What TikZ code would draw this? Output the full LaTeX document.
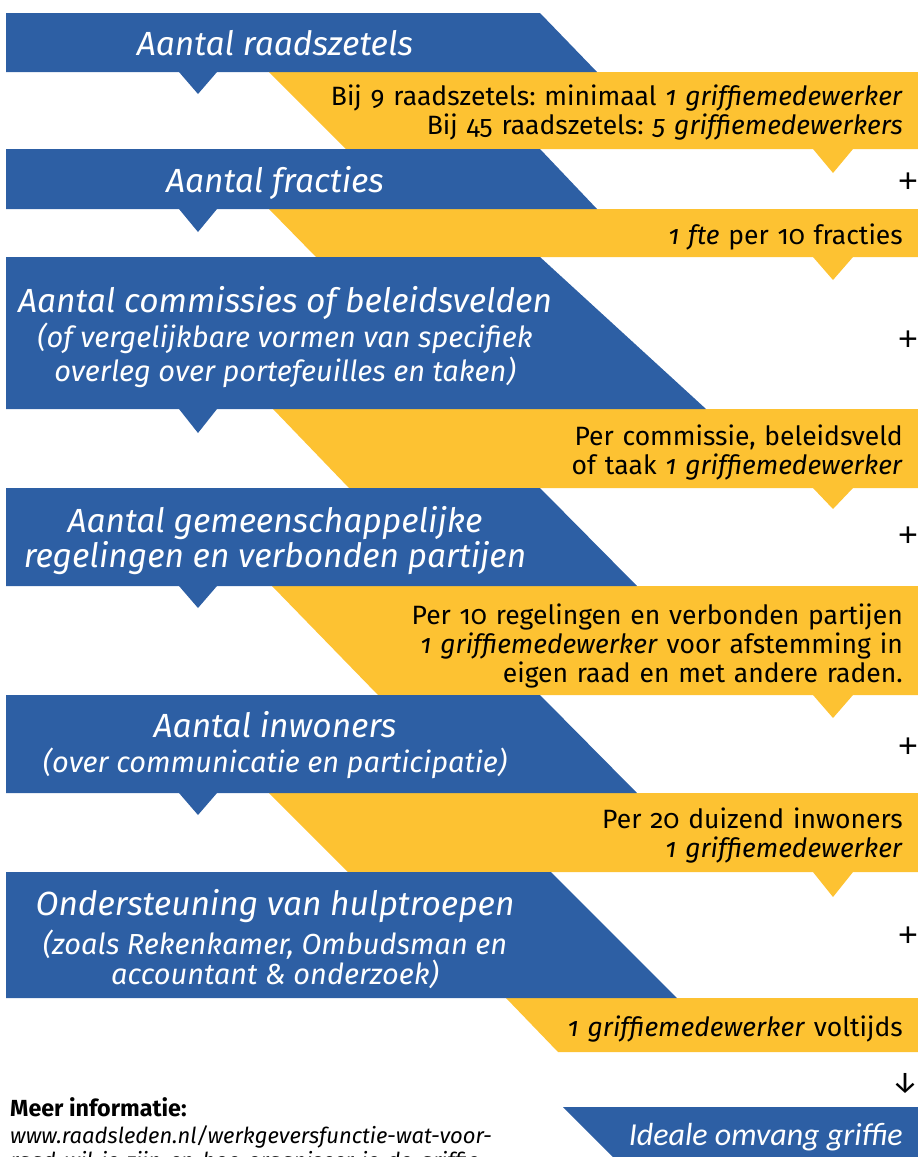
\documentclass[tikz,border=0pt]{standalone}
\usepackage{fontspec}
\setmainfont{Fira Sans}[Numbers=OldStyle]
\newfontfamily\idealfont{Carlito}
\newfontfamily\plusfont{Liberation Sans}
\usepackage{tikz}
\usetikzlibrary{arrows.meta}
\definecolor{raadblauw}{RGB}{45,95,164}
\definecolor{raadgeel}{RGB}{253,194,50}

\begin{document}
\begin{tikzpicture}[x=1pt,y=-1pt,
kop/.style={text=white,font=\fontsize{33.5}{38}\selectfont\itshape,inner sep=0pt,anchor=mid},
subkop/.style={kop,font=\fontsize{29}{34}\selectfont\itshape},
geel/.style={font=\fontsize{26.5}{29}\selectfont\frenchspacing,text width=600pt,align=right,inner sep=0pt,anchor=east},
plus/.style={font=\plusfont\fontsize{34}{38}\selectfont,inner sep=0pt}]
\useasboundingbox(0,0)rectangle(918,1157);
\clip(0,0)rectangle(918,1157);
\fill[raadgeel](269,72)--(918,72)--(918,149)--(853,149)--(833,173)--(813,149)--(346,149)--cycle;
\fill[raadgeel](269,209)--(918,209)--(918,257)--(853,257)--(833,280)--(813,257)--(316,257)--cycle;
\fill[raadgeel](273,409)--(918,409)--(918,488)--(853,488)--(833,509)--(813,488)--(349,488)--cycle;
\fill[raadgeel](272,586)--(918,586)--(918,695)--(853,695)--(833,718)--(813,695)--(378,695)--cycle;
\fill[raadgeel](269,793)--(918,793)--(918,872)--(853,872)--(833,897)--(813,872)--(348,872)--cycle;
\fill[raadgeel](506,998)--(918,998)--(918,1052)--(558,1052)--cycle;
\fill[raadblauw](6,13)--(540,13)--(597,72)--(217,72)--(198,94)--(179,72)--(6,72)--cycle;
\fill[raadblauw](6,149)--(540,149)--(597,209)--(217,209)--(198,232)--(179,209)--(6,209)--cycle;
\fill[raadblauw](6,257)--(540,257)--(706,409)--(217,409)--(198,433)--(179,409)--(6,409)--cycle;
\fill[raadblauw](6,488)--(540,488)--(637,586)--(217,586)--(198,608)--(179,586)--(6,586)--cycle;
\fill[raadblauw](6,695)--(540,695)--(637,793)--(217,793)--(198,815)--(179,793)--(6,793)--cycle;
\fill[raadblauw](6,872)--(551,872)--(677,998)--(6,998)--cycle;
\fill[raadblauw](563,1107)--(918,1107)--(918,1160)--(616,1160)--cycle;
\node[kop](k1)at(275,53){Aantal raadszetels};
\node[kop](k2)at(275,190){Aantal fracties};
\node[kop](k3a)at(285,310){Aantal commissies of beleidsvelden};
\node[subkop](k3b)at(285,345){(of vergelijkbare vormen van specifiek};
\node[subkop](k3c)at(285,379){overleg over portefeuilles en taken)};
\node[kop](k4a)at(275,530){Aantal gemeenschappelijke};
\node[kop](k4b)at(275,565){regelingen en verbonden partijen};
\node[kop](k5a)at(275,735){Aantal inwoners};
\node[subkop](k5b)at(275,770){(over communicatie en participatie)};
\node[kop](k6a)at(275,913){Ondersteuning van hulptroepen};
\node[subkop](k6b)at(275,952){(zoals Rekenkamer, Ombudsman en};
\node[subkop](k6c)at(275,982){accountant \& onderzoek)};
\node[geel](g1)at(903,113){Bij 9 raadszetels: minimaal \textit{1 griffiemedewerker}\\Bij 45 raadszetels: \textit{5 griffiemedewerkers}};
\node[geel](g2)at(903,237){\textit{1 fte} per 10 fracties};
\node[geel](g3)at(903,453){Per commissie, beleidsveld\\of taak \textit{1 griffiemedewerker}};
\node[geel](g4)at(903,646){Per 10 regelingen en verbonden partijen\\\textit{1 griffiemedewerker} voor afstemming in\\eigen raad en met andere raden.};
\node[geel](g5)at(903,836){Per 20 duizend inwoners\\\textit{1 griffiemedewerker}};
\node[geel](g6)at(903,1029){\textit{1 griffiemedewerker} voltijds};
\node[plus](p2)at(908,183){+};
\node[plus](p3)at(908,341){+};
\node[plus](p4)at(908,537){+};
\node[plus](p5)at(908,748){+};
\node[plus](p6)at(908,937){+};
\node[inner sep=0pt,font=\fontsize{30}{34}\selectfont](pijl)at(905,1083){↓};
\node[text=white,font=\idealfont\fontsize{32}{36}\selectfont\itshape,anchor=mid east,inner sep=0pt](ideaal)at(903,1143){Ideale omvang griffie};
\node[anchor=mid west,inner sep=0pt,font=\fontsize{23.3}{26}\selectfont\bfseries](meer)at(10,1114){Meer informatie:};
\node[anchor=mid west,inner sep=0pt,font=\fontsize{22}{26}\selectfont\itshape](url1)at(10,1141){www.raadsleden.nl/werkgeversfunctie-wat-voor-};
\node[anchor=mid west,inner sep=0pt,font=\fontsize{22}{26}\selectfont\itshape](url2)at(10,1166){raad-wil-je-zijn-en-hoe-organiseer-je-de-griffie};
\end{tikzpicture}
\end{document}
